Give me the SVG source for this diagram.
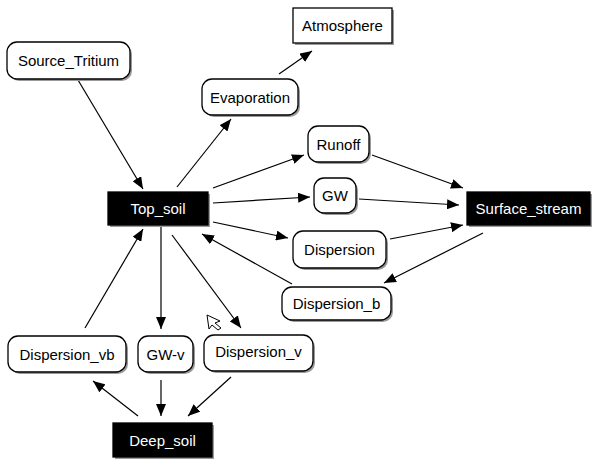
<svg xmlns="http://www.w3.org/2000/svg" width="592" height="460" viewBox="0 0 592 460">
<defs>
<style>
.box{fill:#fff;stroke:#000;stroke-width:1.3}
.dark{fill:#000;stroke:#000;stroke-width:1.3}
.sh{fill:#9a9a9a}
.t{font-family:"Liberation Sans",Arial,sans-serif;font-size:15px;fill:#000;text-anchor:middle}
.tw{font-family:"Liberation Sans",Arial,sans-serif;font-size:15px;fill:#fff;text-anchor:middle}
.e{stroke:#000;stroke-width:1.2;fill:none;marker-end:url(#ah)}
</style>
<marker id="ah" viewBox="0 0 12 10" refX="12" refY="5" markerWidth="12" markerHeight="10" markerUnits="userSpaceOnUse" orient="auto">
<path d="M0,0 L12,5 L0,10 Z" fill="#000"/>
</marker>
</defs>
<rect width="592" height="460" fill="#fff"/>
<g id="connectors">
<line class="e" x1="78" y1="80" x2="143" y2="189"/>
<line class="e" x1="177" y1="187" x2="231" y2="119"/>
<line class="e" x1="279" y1="74" x2="312" y2="51"/>
<line class="e" x1="213" y1="188" x2="304" y2="155"/>
<line class="e" x1="213" y1="203" x2="310" y2="197"/>
<line class="e" x1="213" y1="222" x2="288" y2="238"/>
<line class="e" x1="292" y1="284" x2="202" y2="234"/>
<line class="e" x1="372" y1="155" x2="463" y2="188"/>
<line class="e" x1="359" y1="199" x2="459" y2="205"/>
<line class="e" x1="390" y1="239" x2="463" y2="225"/>
<line class="e" x1="483" y1="233" x2="384" y2="283"/>
<line class="e" x1="161" y1="226" x2="161" y2="329"/>
<line class="e" x1="172" y1="235" x2="241" y2="328"/>
<line class="e" x1="85" y1="328" x2="143" y2="229"/>
<line class="e" x1="138" y1="416" x2="93" y2="381"/>
<line class="e" x1="161" y1="380" x2="161" y2="416"/>
<line class="e" x1="231" y1="377" x2="188" y2="416"/>
</g>
<g id="Source_Tritium"><rect class="sh" x="9" y="44" width="123" height="37" rx="10"/><rect class="box" x="7" y="42" width="123" height="37" rx="10"/><text class="t" x="68.5" y="66">Source_Tritium</text></g>
<g id="Atmosphere"><rect class="sh" x="295" y="10" width="99" height="35"/><rect class="box" x="293" y="8" width="99" height="35"/><text class="t" x="342.5" y="31">Atmosphere</text></g>
<g id="Evaporation"><rect class="sh" x="204" y="81" width="96" height="36" rx="10"/><rect class="box" x="202" y="79" width="96" height="36" rx="10"/><text class="t" x="250" y="102.5">Evaporation</text></g>
<g id="Runoff"><rect class="sh" x="310" y="128" width="61" height="36" rx="10"/><rect class="box" x="308" y="126" width="61" height="36" rx="10"/><text class="t" x="338.5" y="149.5">Runoff</text></g>
<g id="Top_soil"><rect class="sh" x="110" y="194" width="100" height="33"/><rect class="dark" x="108" y="192" width="100" height="33"/><text class="tw" x="158" y="214">Top_soil</text></g>
<g id="GW"><rect class="sh" x="316" y="180" width="42" height="35" rx="10"/><rect class="box" x="314" y="178" width="42" height="35" rx="10"/><text class="t" x="335" y="201">GW</text></g>
<g id="Surface_stream"><rect class="sh" x="469" y="194" width="123" height="33"/><rect class="dark" x="467" y="192" width="123" height="33"/><text class="tw" x="528.5" y="214">Surface_stream</text></g>
<g id="Dispersion"><rect class="sh" x="295" y="233" width="93" height="37" rx="10"/><rect class="box" x="293" y="231" width="93" height="37" rx="10"/><text class="t" x="339.5" y="255">Dispersion</text></g>
<g id="Dispersion_b"><rect class="sh" x="284" y="289" width="109" height="33" rx="10"/><rect class="box" x="282" y="287" width="109" height="33" rx="10"/><text class="t" x="336.5" y="309">Dispersion_b</text></g>
<g id="Dispersion_vb"><rect class="sh" x="10" y="338" width="118" height="36" rx="10"/><rect class="box" x="8" y="336" width="118" height="36" rx="10"/><text class="t" x="67" y="359.5">Dispersion_vb</text></g>
<g id="GW-v"><rect class="sh" x="140" y="338" width="55" height="36" rx="10"/><rect class="box" x="138" y="336" width="55" height="36" rx="10"/><text class="t" x="165.5" y="359.5">GW-v</text></g>
<g id="Dispersion_v"><rect class="sh" x="206" y="337" width="109" height="36" rx="10"/><rect class="box" x="204" y="335" width="109" height="36" rx="10"/><text class="t" x="258.5" y="357">Dispersion_v</text></g>
<g id="Deep_soil"><rect class="sh" x="115" y="425" width="99" height="34"/><rect class="dark" x="113" y="423" width="99" height="34"/><text class="tw" x="162.5" y="445.5">Deep_soil</text></g>
<path d="M207,315 L220,321 L215,323 L221,328 L218,330 L212,325 L209,329 Z" fill="#fff" stroke="#000" stroke-width="1"/>
</svg>
